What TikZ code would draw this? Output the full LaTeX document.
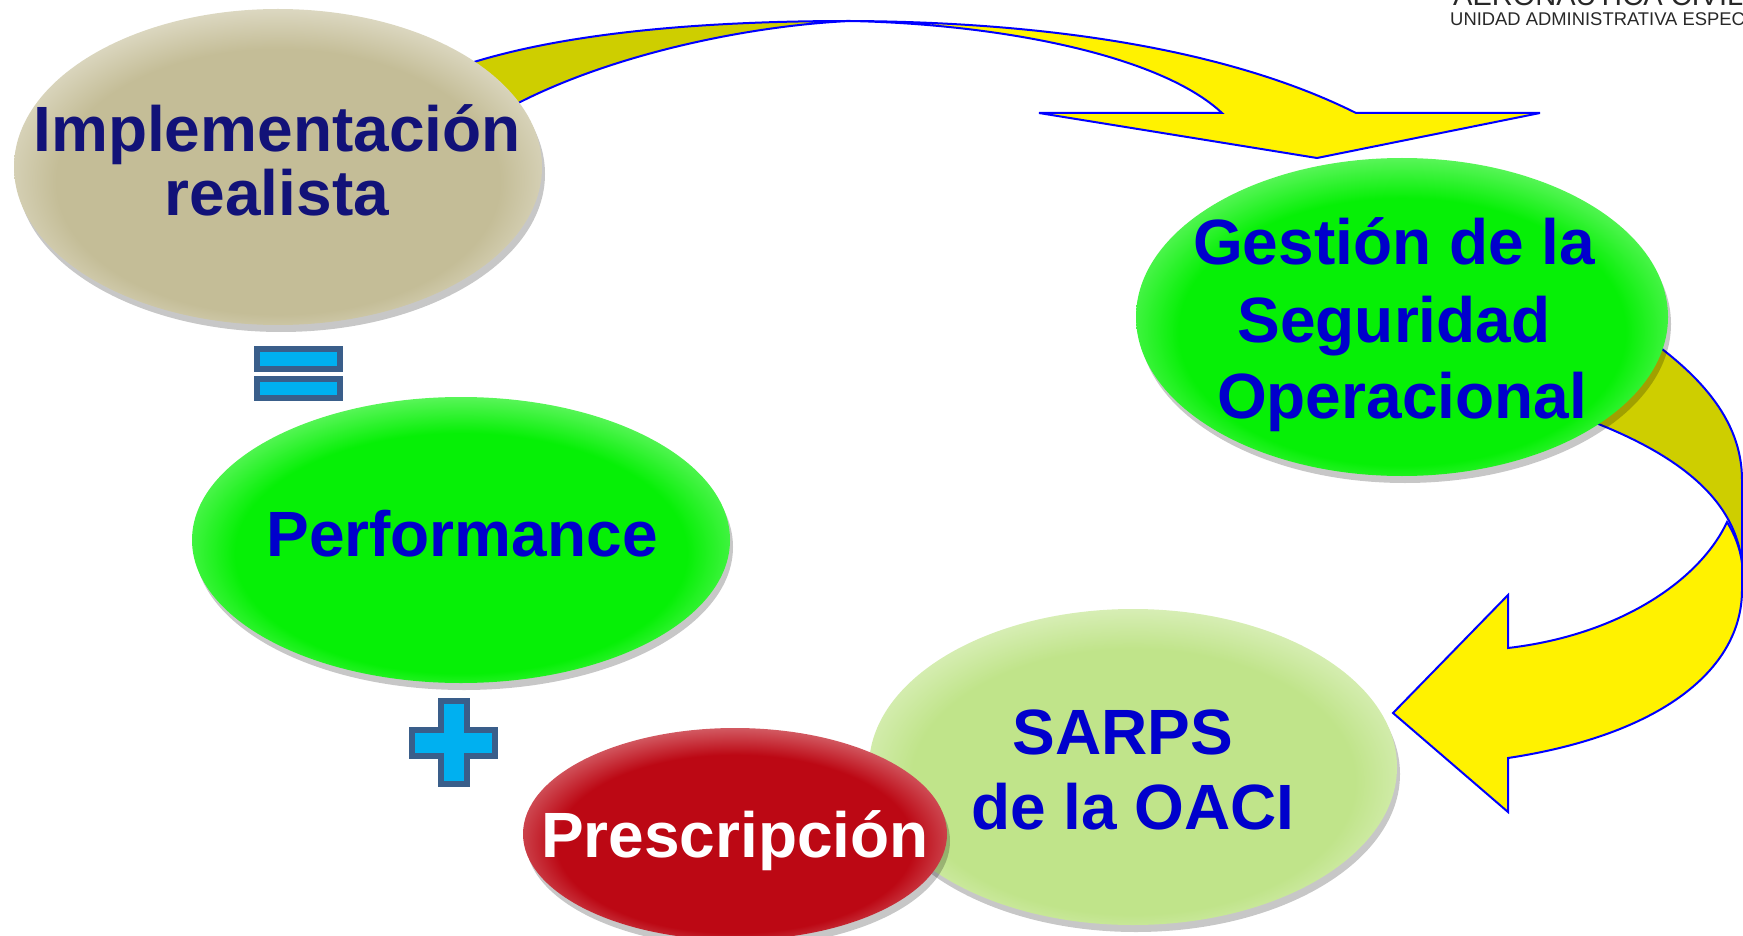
\documentclass[tikz,border=0pt]{standalone}
\usepackage{fontspec}
\setmainfont{Liberation Sans}
\usetikzlibrary{shapes.geometric,shadows}
\definecolor{tanc}{RGB}{196,189,151}
\colorlet{tanl}{tanc!45!white}
\definecolor{grnc}{RGB}{6,240,6}
\colorlet{grnl}{grnc!55!white}
\definecolor{sarc}{RGB}{192,228,138}
\colorlet{sarl}{sarc!50!white}
\definecolor{redc}{RGB}{188,8,20}
\colorlet{redl}{redc!55!white}
\definecolor{navyt}{RGB}{18,18,120}
\definecolor{bluet}{RGB}{0,0,204}
\definecolor{olivec}{RGB}{206,206,0}
\definecolor{cyanf}{RGB}{0,176,240}
\definecolor{plusb}{RGB}{58,94,138}
\definecolor{headc}{RGB}{40,40,40}
\pgfdeclareradialshading{bevtan}{\pgfpoint{0bp}{-4bp}}{color(0bp)=(tanc); color(21bp)=(tanc); color(29bp)=(tanl); color(50bp)=(tanl)}
\pgfdeclareradialshading{bevgrn}{\pgfpoint{0bp}{-4bp}}{color(0bp)=(grnc); color(21bp)=(grnc); color(29bp)=(grnl); color(50bp)=(grnl)}
\pgfdeclareradialshading{bevsar}{\pgfpoint{0bp}{-4bp}}{color(0bp)=(sarc); color(21bp)=(sarc); color(29bp)=(sarl); color(50bp)=(sarl)}
\pgfdeclareradialshading{bevred}{\pgfpoint{0bp}{-4bp}}{color(0bp)=(redc); color(21bp)=(redc); color(29bp)=(redl); color(50bp)=(redl)}
\newcommand\mybig{\fontsize{64}{63}\selectfont\bfseries}
\tikzset{
  bub/.style={ellipse, inner sep=0pt, shade,
    drop shadow={shadow xshift=3pt, shadow yshift=-7pt, opacity=0.22, fill=black}},
  bigtext/.style={anchor=base, font=\mybig},
  yarrow/.style={fill=yellow, draw=blue, line width=2pt, line join=miter},
  darrow/.style={fill=olivec, draw=blue, line width=2pt},
  signbox/.style={fill=cyanf, draw=plusb, line width=6pt}
}
\begin{document}
\begin{tikzpicture}[x=1pt, y=-1pt]
\useasboundingbox (0,0) rectangle (1743,936);
\clip (0,0) rectangle (1743,936);
% header
\node[anchor=base west, inner sep=0pt, text=headc, font=\fontsize{29}{29}\selectfont] (head1) at (1453,6) {AERONÁUTICA CIVIL};
\node[anchor=base west, inner sep=0pt, text=headc, font=\fontsize{18.4}{18}\selectfont] (head2) at (1450,25.5) {UNIDAD ADMINISTRATIVA ESPECIAL};
% top curved arrow
\draw[darrow] (450,70) .. controls (560,30) and (720,21) .. (850,21)
   .. controls (740,26) and (580,60) .. (480,125) -- cycle;
\draw[yarrow] (850,21) .. controls (1050,22) and (1230,50) .. (1356,113)
   -- (1540,113) -- (1317,158) -- (1039,113) -- (1222,113)
   .. controls (1160,55) and (1000,24) .. (850,21) -- cycle;
% right curved arrow
\draw[darrow] (1620,320) .. controls (1700,370) and (1742,420) .. (1742,480)
   -- (1742,563) .. controls (1735,500) and (1680,450) .. (1560,410) -- cycle;
\draw[yarrow] (1727,522) .. controls (1700,580) and (1620,635) .. (1508,648)
   -- (1508,595) -- (1393,713) -- (1508,812) -- (1508,758)
   .. controls (1660,735) and (1742,670) .. (1742,590) -- (1742,563)
   .. controls (1740,548) and (1735,535) .. (1727,522) -- cycle;
% ellipses
\node[bub, shading=bevtan, minimum width=528pt, minimum height=316pt] (impl) at (278,167) {};
\node[bub, shading=bevgrn, minimum width=532pt, minimum height=318pt] (gest) at (1402,317) {};
\node[bub, shading=bevgrn, minimum width=538pt, minimum height=286pt] (perf) at (461,540) {};
\node[bub, shading=bevsar, minimum width=528pt, minimum height=316pt] (sarps) at (1133,767) {};
\node[bub, shading=bevred, minimum width=424pt, minimum height=212pt] (presc) at (735,834) {};
% texts
\node[bigtext, text=navyt] (t1a) at (277,152) {Implementación};
\node[bigtext, text=navyt] (t1b) at (277,215) {realista};
\node[bigtext, text=bluet] (t2a) at (1394,265) {Gestión de la};
\node[bigtext, text=bluet] (t2b) at (1394,342) {Seguridad};
\node[bigtext, text=bluet] (t2c) at (1402,418) {Operacional};
\node[bigtext, text=bluet] (t3) at (462,556) {Performance};
\node[bigtext, text=bluet] (t4a) at (1123,754) {SARPS};
\node[bigtext, text=bluet] (t4b) at (1133,829) {de la OACI};
\node[bigtext, text=white] (t5) at (735,857) {Prescripción};
% equal sign
\draw[signbox] (257,349) rectangle (340,369);
\draw[signbox] (257,379) rectangle (340,398);
% plus sign
\draw[signbox] (441,701) -- (467,701) -- (467,730) -- (495,730) -- (495,756)
  -- (467,756) -- (467,784) -- (441,784) -- (441,756) -- (412,756)
  -- (412,730) -- (441,730) -- cycle;
\end{tikzpicture}
\end{document}
